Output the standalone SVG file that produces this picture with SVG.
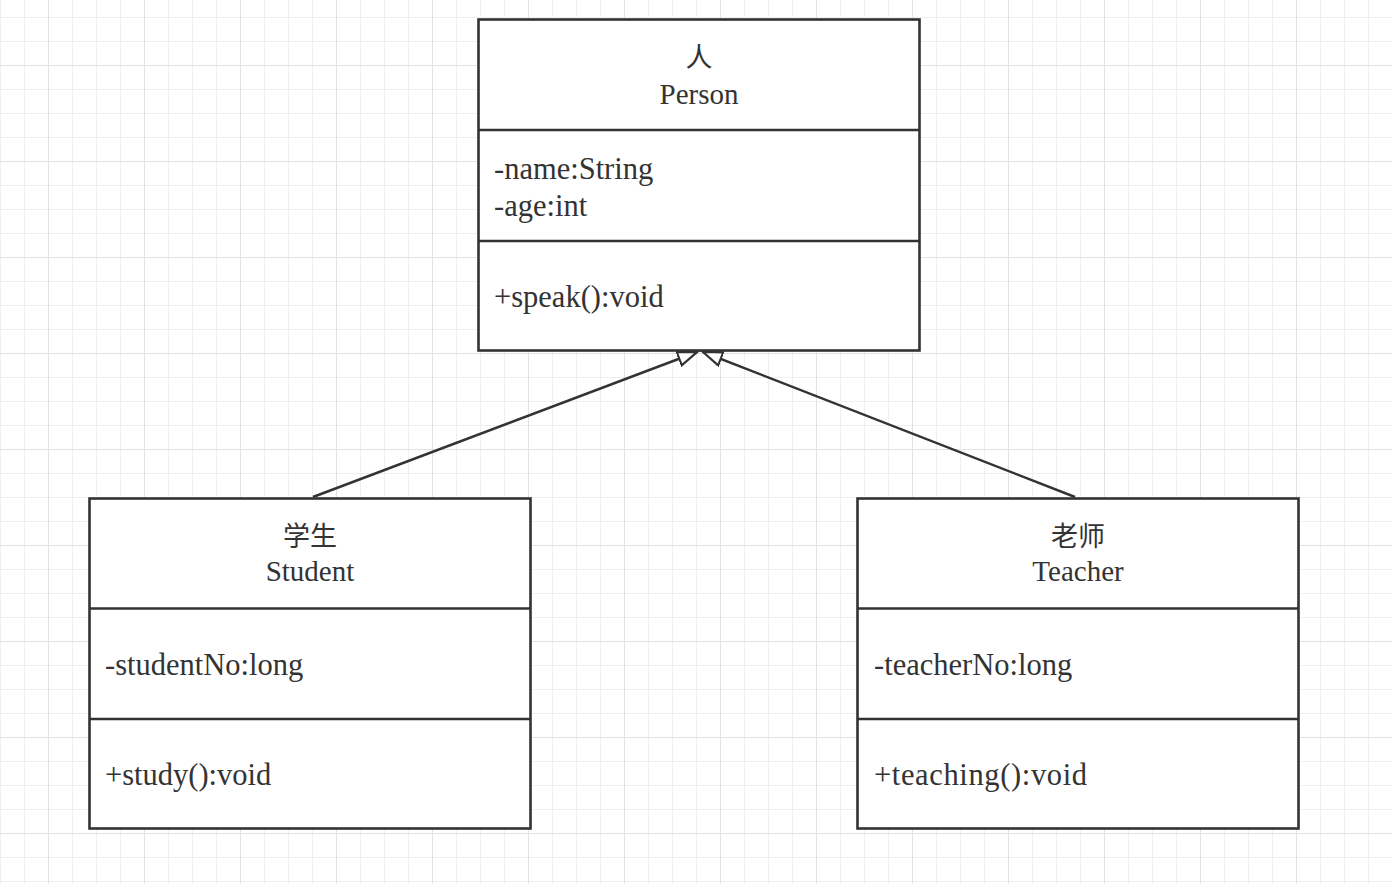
<svg xmlns="http://www.w3.org/2000/svg" width="1392" height="884" viewBox="0 0 1392 884">
<defs>
<style>
.box{fill:#fff;stroke:#333;stroke-width:2.6}
.div{stroke:#333;stroke-width:2.6}
.t{font-family:"Liberation Serif","Times New Roman",serif;font-size:30.5px;fill:#333}
.c{text-anchor:middle;font-size:29px}
.cjk{font-family:"Noto Sans CJK SC","Noto Sans CJK JP",sans-serif;font-size:27px;fill:#333;text-anchor:middle}
.edge{fill:none;stroke:#333;stroke-width:2.5}
</style>
<pattern id="minor" x="0" y="17" width="24" height="24" patternUnits="userSpaceOnUse">
<path d="M0,0.5H24M0.5,0V24" fill="none" stroke="#efefef" stroke-width="1"/>
</pattern>
<pattern id="major" x="48" y="65" width="96" height="96" patternUnits="userSpaceOnUse">
<path d="M0,0.5H96M0.5,0V96" fill="none" stroke="#e2e2e2" stroke-width="1"/>
</pattern>
<marker id="inherit" markerUnits="userSpaceOnUse" markerWidth="24" markerHeight="18" refX="20" refY="8" orient="auto">
<path d="M1,1 L20,8 L1,15 Z" fill="#fff" stroke="#333" stroke-width="2.2" stroke-linejoin="miter"/>
</marker>
</defs>
<rect width="1392" height="884" fill="#fff"/>
<rect width="1392" height="884" fill="url(#minor)"/>
<rect width="1392" height="884" fill="url(#major)"/>

<g id="connectors">
<line class="edge" x1="313" y1="497" x2="697" y2="352" marker-end="url(#inherit)"/>
<line class="edge" x1="1075" y1="497" x2="703" y2="352" marker-end="url(#inherit)"/>
</g>

<g id="person">
<rect class="box" x="478.5" y="19.5" width="441" height="331"/>
<line class="div" x1="478.5" y1="130" x2="919.5" y2="130"/>
<line class="div" x1="478.5" y1="241" x2="919.5" y2="241"/>
<text class="cjk" x="699" y="67">人</text>
<text class="t c" x="699" y="104">Person</text>
<text class="t" x="494" y="179">-name:String</text>
<text class="t" x="494" y="216">-age:int</text>
<text class="t" x="494" y="307">+speak():void</text>
</g>

<g id="student">
<rect class="box" x="89.5" y="498.5" width="441" height="330"/>
<line class="div" x1="89.5" y1="608.5" x2="530.5" y2="608.5"/>
<line class="div" x1="89.5" y1="719" x2="530.5" y2="719"/>
<text class="cjk" x="310" y="546">学生</text>
<text class="t c" x="310" y="581">Student</text>
<text class="t" x="105" y="675">-studentNo:long</text>
<text class="t" x="105" y="785">+study():void</text>
</g>

<g id="teacher">
<rect class="box" x="857.5" y="498.5" width="441" height="330"/>
<line class="div" x1="857.5" y1="608.5" x2="1298.5" y2="608.5"/>
<line class="div" x1="857.5" y1="719" x2="1298.5" y2="719"/>
<text class="cjk" x="1078" y="546">老师</text>
<text class="t c" x="1078" y="581">Teacher</text>
<text class="t" x="874" y="675">-teacherNo:long</text>
<text class="t" x="874" y="785" textLength="213">+teaching():void</text>
</g>
</svg>
